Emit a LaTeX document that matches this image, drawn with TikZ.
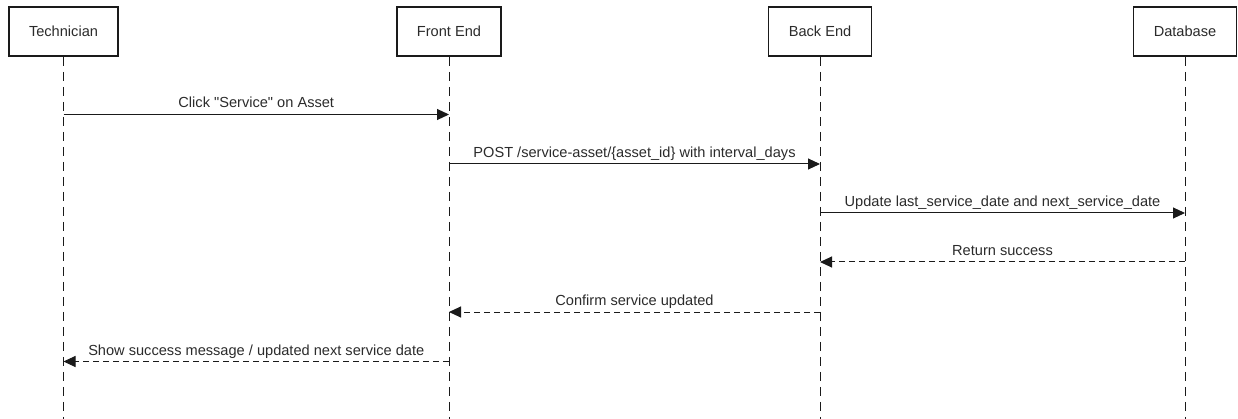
\documentclass[tikz,border=0pt]{standalone}
\usepackage{fontspec}
\setmainfont{Liberation Sans}[Ligatures=TeXOff]
\usetikzlibrary{arrows.meta}
\definecolor{ink}{HTML}{1A1A1A}
\definecolor{txt}{HTML}{2B2B2B}
\tikzset{
  actor/.style={draw=ink, line width=1.8pt, fill=white, minimum height=49pt,
    inner sep=0pt, text=txt, font=\fontsize{14.6}{17}\selectfont},
  lifeline/.style={draw=ink, line width=1pt, dash pattern=on 9pt off 6pt},
  call/.style={draw=ink, line width=1pt, -{Triangle[length=12pt,width=11pt]}},
  reply/.style={draw=ink, line width=1pt, dash pattern=on 6pt off 4pt,
    -{Triangle[length=12pt,width=11pt]}},
  msglabel/.style={anchor=base, text=txt, inner sep=0pt,
    font=\fontsize{14.6}{17}\selectfont},
}
\begin{document}
\begin{tikzpicture}[x=1pt,y=-1pt]
\useasboundingbox (0,0) rectangle (1238,419);

% participants
\node[actor, minimum width=109pt] (tech) at (63.5,31.5) {Technician};
\node[actor, minimum width=104pt] (front) at (449,31.5) {Front End};
\node[actor, minimum width=103pt] (back) at (820,31.5) {Back End};
\node[actor, minimum width=103pt] (db) at (1185,31.5) {Database};

% lifeline ends
\coordinate (techEnd) at (63.5,419);
\coordinate (frontEnd) at (449,419);
\coordinate (backEnd) at (820,419);
\coordinate (dbEnd) at (1185,419);

\draw[lifeline] (tech.south) -- (techEnd);
\draw[lifeline] (front.south) -- (frontEnd);
\draw[lifeline] (back.south) -- (backEnd);
\draw[lifeline] (db.south) -- (dbEnd);

% message end points on the lifelines
\coordinate (m1a) at (63.5,114.5); \coordinate (m1b) at (449,114.5);
\coordinate (m2a) at (449,164);   \coordinate (m2b) at (820,164);
\coordinate (m3a) at (820,213);   \coordinate (m3b) at (1185,213);
\coordinate (m4a) at (1185,262);  \coordinate (m4b) at (820,262);
\coordinate (m5a) at (820,312);   \coordinate (m5b) at (449,312);
\coordinate (m6a) at (449,361.5); \coordinate (m6b) at (63.5,361.5);

% messages
\draw[call] (m1a) -- (m1b)
  node[msglabel, pos=0.5, yshift=6.5pt] (l1) {Click "Service" on Asset};
\draw[call] (m2a) -- (m2b)
  node[msglabel, pos=0.5, yshift=6.5pt] (l2) {POST /service-asset/\{asset\_id\} with interval\_days};
\draw[call] (m3a) -- (m3b)
  node[msglabel, pos=0.5, yshift=6.5pt] (l3) {Update last\_service\_date and next\_service\_date};
\draw[reply] (m4a) -- (m4b)
  node[msglabel, pos=0.5, yshift=6.5pt] (l4) {Return success};
\draw[reply] (m5a) -- (m5b)
  node[msglabel, pos=0.5, yshift=6.5pt] (l5) {Confirm service updated};
\draw[reply] (m6a) -- (m6b)
  node[msglabel, pos=0.5, yshift=6.5pt] (l6) {Show success message / updated next service date};
\end{tikzpicture}
\end{document}
